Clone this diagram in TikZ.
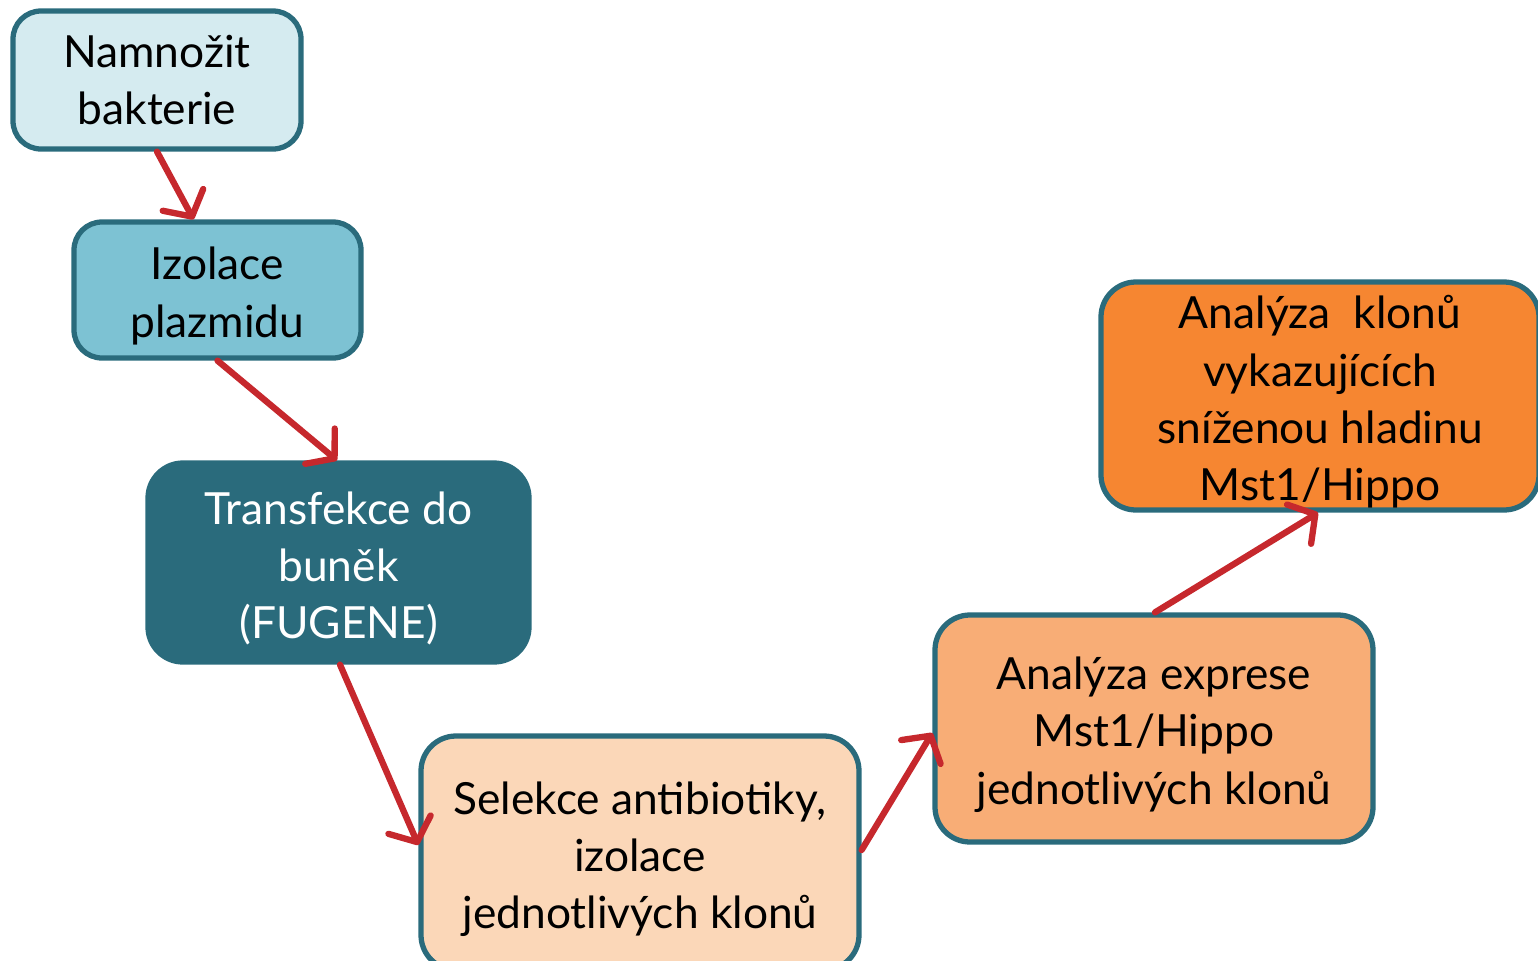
\documentclass[tikz,border=0pt]{standalone}
\usepackage{fontspec}
\setmainfont{Lato}
\usetikzlibrary{arrows.meta}
\definecolor{teal1}{HTML}{2A6B7C}
\definecolor{pale1}{HTML}{D5EBF0}
\definecolor{mid1}{HTML}{7DC2D3}
\definecolor{peach1}{HTML}{FBD7B8}
\definecolor{peach2}{HTML}{F8AD76}
\definecolor{orange1}{HTML}{F68631}
\definecolor{arr1}{HTML}{C6282D}
\newcommand{\steptext}[2]{\raisebox{-0.06cm}[\height][\depth]{\parbox{#1}{\centering #2}}}
\tikzset{
  stepbox/.style={draw=teal1,line width=1.5pt,rounded corners=0.28cm,align=center,
    inner sep=0pt,font=\fontsize{12.6}{16.3}\selectfont},
  flow/.style={draw=arr1,line width=1.8pt,line cap=round,
    -{Straight Barb[length=1.9mm,width=4.6mm,round]}}
}
\begin{document}
\begin{tikzpicture}
	\useasboundingbox (0,0) rectangle (15.38,-9.61);
	\node[stepbox,fill=pale1,minimum width=2.88cm,minimum height=1.38cm] (nam) at (1.57,-0.80) {Namnožit\\bakterie};
	\node[stepbox,fill=mid1,minimum width=2.87cm,minimum height=1.36cm] (izo) at (2.175,-2.90) {\steptext{2.8cm}{Izolace\\plazmidu}};
	\node[stepbox,fill=teal1,text=white,rounded corners=0.35cm,minimum width=3.81cm,minimum height=1.99cm] (trans) at (3.385,-5.625) {\steptext{3.7cm}{Transfekce do\\buněk\\(FUGENE)}};
	\node[stepbox,fill=peach1,rounded corners=0.35cm,minimum width=4.38cm,minimum height=2.34cm] (sel) at (6.40,-8.53) {\steptext{4.3cm}{Selekce antibiotiky,\\izolace\\jednotlivých klonů}};
	\node[stepbox,fill=peach2,rounded corners=0.35cm,minimum width=4.38cm,minimum height=2.27cm] (expr) at (11.54,-7.285) {\steptext{4.3cm}{Analýza exprese\\Mst1/Hippo\\jednotlivých klonů}};
	\node[stepbox,fill=orange1,rounded corners=0.35cm,minimum width=4.38cm,minimum height=2.28cm] (klon) at (13.20,-3.96) {\steptext{4.3cm}{Analýza~~klonů\\vykazujících\\sníženou hladinu\\Mst1/Hippo}};
	\draw[flow] (nam.south) -- ([xshift=-0.24cm]izo.north);
	\draw[flow] (izo.south) -- ([xshift=-0.015cm]trans.north);
	\draw[flow] ([xshift=0.015cm]trans.south) -- ([yshift=0.08cm]sel.west);
	\draw[flow] ([yshift=0.03cm]sel.east) -- ([yshift=-0.045cm]expr.west);
	\draw[flow] ([xshift=0.01cm]expr.north) -- ([xshift=-0.02cm]klon.south);
\end{tikzpicture}
\end{document}
